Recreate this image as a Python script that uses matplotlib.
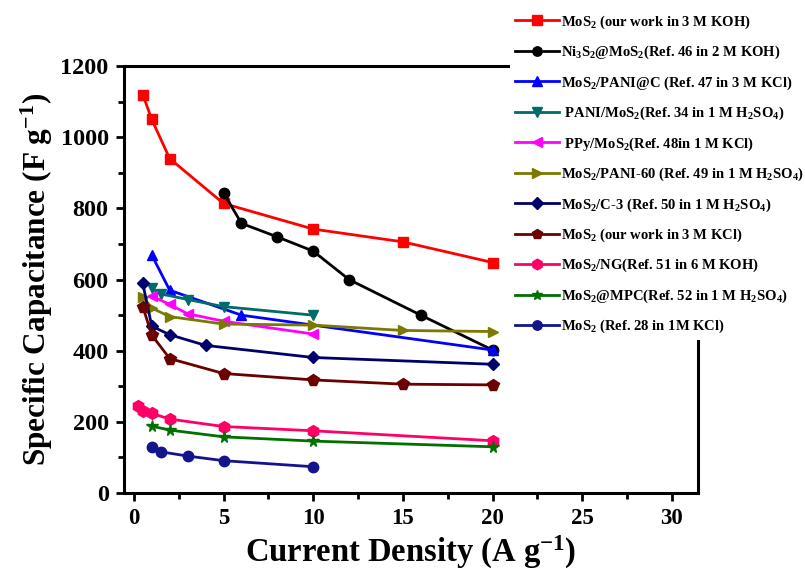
import matplotlib
matplotlib.use("Agg")
import matplotlib.pyplot as plt
from matplotlib.ticker import MultipleLocator

plt.rcParams['font.family'] = ['Liberation Serif', 'DejaVu Serif']
plt.rcParams['font.weight'] = 'bold'
plt.rcParams['mathtext.fontset'] = 'custom'
plt.rcParams['mathtext.rm'] = 'Liberation Serif:bold'
plt.rcParams['mathtext.it'] = 'Liberation Serif:bold'
plt.rcParams['mathtext.bf'] = 'Liberation Serif:bold'

labels = [
    "MoS$_2$ (our work in 3 M KOH)",
    "Ni$_3$S$_2$@MoS$_2$(Ref. 46 in 2 M KOH)",
    "MoS$_2$/PANI@C (Ref. 47 in 3 M KCl)",
    " PANI/MoS$_2$(Ref. 34 in 1 M H$_2$SO$_4$)",
    " PPy/MoS$_2$(Ref. 48in 1 M KCl)",
    "MoS$_2$/PANI-60 (Ref. 49 in 1 M H$_2$SO$_4$)",
    "MoS$_2$/C-3 (Ref. 50 in 1 M H$_2$SO$_4$)",
    "MoS$_2$ (our work in 3 M KCl)",
    "MoS$_2$/NG(Ref. 51 in 6 M KOH)",
    "MoS$_2$@MPC(Ref. 52 in 1 M H$_2$SO$_4$)",
    "MoS$_2$ (Ref. 28 in 1M KCl)",
]

x_koh = [0.5, 1, 2, 5, 10, 15, 20]
y_koh = [1120, 1050, 940, 814, 742, 706, 648]
x_ni = [5, 6, 8, 10, 12, 16, 20]
y_ni = [844, 758, 720, 680, 600, 500, 402]
x_panic = [1, 2, 6, 20]
y_panic = [669, 570, 500, 402]
x_pani = [1, 1.5, 3, 5, 10]
y_pani = [575, 560, 544, 524, 500]
x_ppy = [1, 2, 3, 5, 10]
y_ppy = [554, 530, 504, 483, 447]
x_pani60 = [0.5, 1, 2, 5, 10, 15, 20]
y_pani60 = [552, 520, 496, 475, 472, 457, 454]
x_c3 = [0.5, 1, 2, 4, 10, 20]
y_c3 = [589, 469, 445, 415, 381, 362]
x_kcl = [0.5, 1, 2, 5, 10, 15, 20]
y_kcl = [524, 444, 378, 336, 318, 306, 304]
x_ng = [0.25, 0.5, 1, 2, 5, 10, 20]
y_ng = [246, 232, 224, 208, 187, 175, 147]
x_mpc = [1, 2, 5, 10, 20]
y_mpc = [188, 177, 158, 146, 130]
x_ref28 = [1, 1.5, 3, 5, 10]
y_ref28 = [130, 116, 104, 91, 74]

series = [
    (x_koh, y_koh, '#FF0000', 's'),
    (x_ni, y_ni, '#000000', 'o'),
    (x_panic, y_panic, '#0000FF', '^'),
    (x_pani, y_pani, '#006B6B', 'v'),
    (x_ppy, y_ppy, '#FF00FF', '<'),
    (x_pani60, y_pani60, '#7A7A00', '>'),
    (x_c3, y_c3, '#00006B', 'D'),
    (x_kcl, y_kcl, '#6B0000', 'p'),
    (x_ng, y_ng, '#FF0066', 'h'),
    (x_mpc, y_mpc, '#007000', '*'),
    (x_ref28, y_ref28, '#14148C', 'o'),
]

fig = plt.figure(figsize=(8.05, 5.70), dpi=100)
ax = fig.add_axes([0.154, 0.135, 0.713, 0.749])

handles = []
for (xs, ys, c, m), lab in zip(series, labels):
    ms = 8.5 if m in ('*', 'h', 'p') else 7.5
    if m == 'D':
        ms = 6.5
    h, = ax.plot(xs, ys, color=c, marker=m, markersize=ms, linewidth=2.0,
                 markeredgecolor=c, label=lab)
    handles.append(h)

ax.set_xlim(-0.55, 31.45)
ax.set_ylim(0, 1200)
ax.xaxis.set_major_locator(MultipleLocator(5))
ax.xaxis.set_minor_locator(MultipleLocator(2.5))
ax.yaxis.set_major_locator(MultipleLocator(200))
ax.yaxis.set_minor_locator(MultipleLocator(100))
ax.tick_params(which='major', direction='out', length=6, width=2, pad=5)
ax.tick_params(which='minor', direction='out', length=4, width=2)
ax.tick_params(axis='y', labelsize=17.5)
ax.tick_params(axis='x', labelsize=16.5)
for lab in ax.get_xticklabels() + ax.get_yticklabels():
    lab.set_fontweight('bold')
for sp in ax.spines.values():
    sp.set_linewidth(2.2)

ax.set_xlabel("Current Density (A g$^{-1}$)", fontsize=23.5, fontweight='bold', labelpad=3)
ax.set_ylabel("Specific Capacitance (F g$^{-1}$)", fontsize=22.5, fontweight='bold', labelpad=4)

leg = fig.legend(handles=handles, loc='upper left', bbox_to_anchor=(0.625, 0.997),
                 frameon=True, facecolor='white', edgecolor='none', framealpha=1,
                 handlelength=3.0, handletextpad=0.2,
                 labelspacing=0.9, borderpad=0.3, markerscale=0.9,
                 prop={'family': 'Liberation Serif', 'weight': 'bold', 'size': 10.5})
fig.savefig("out.png", dpi=100)
